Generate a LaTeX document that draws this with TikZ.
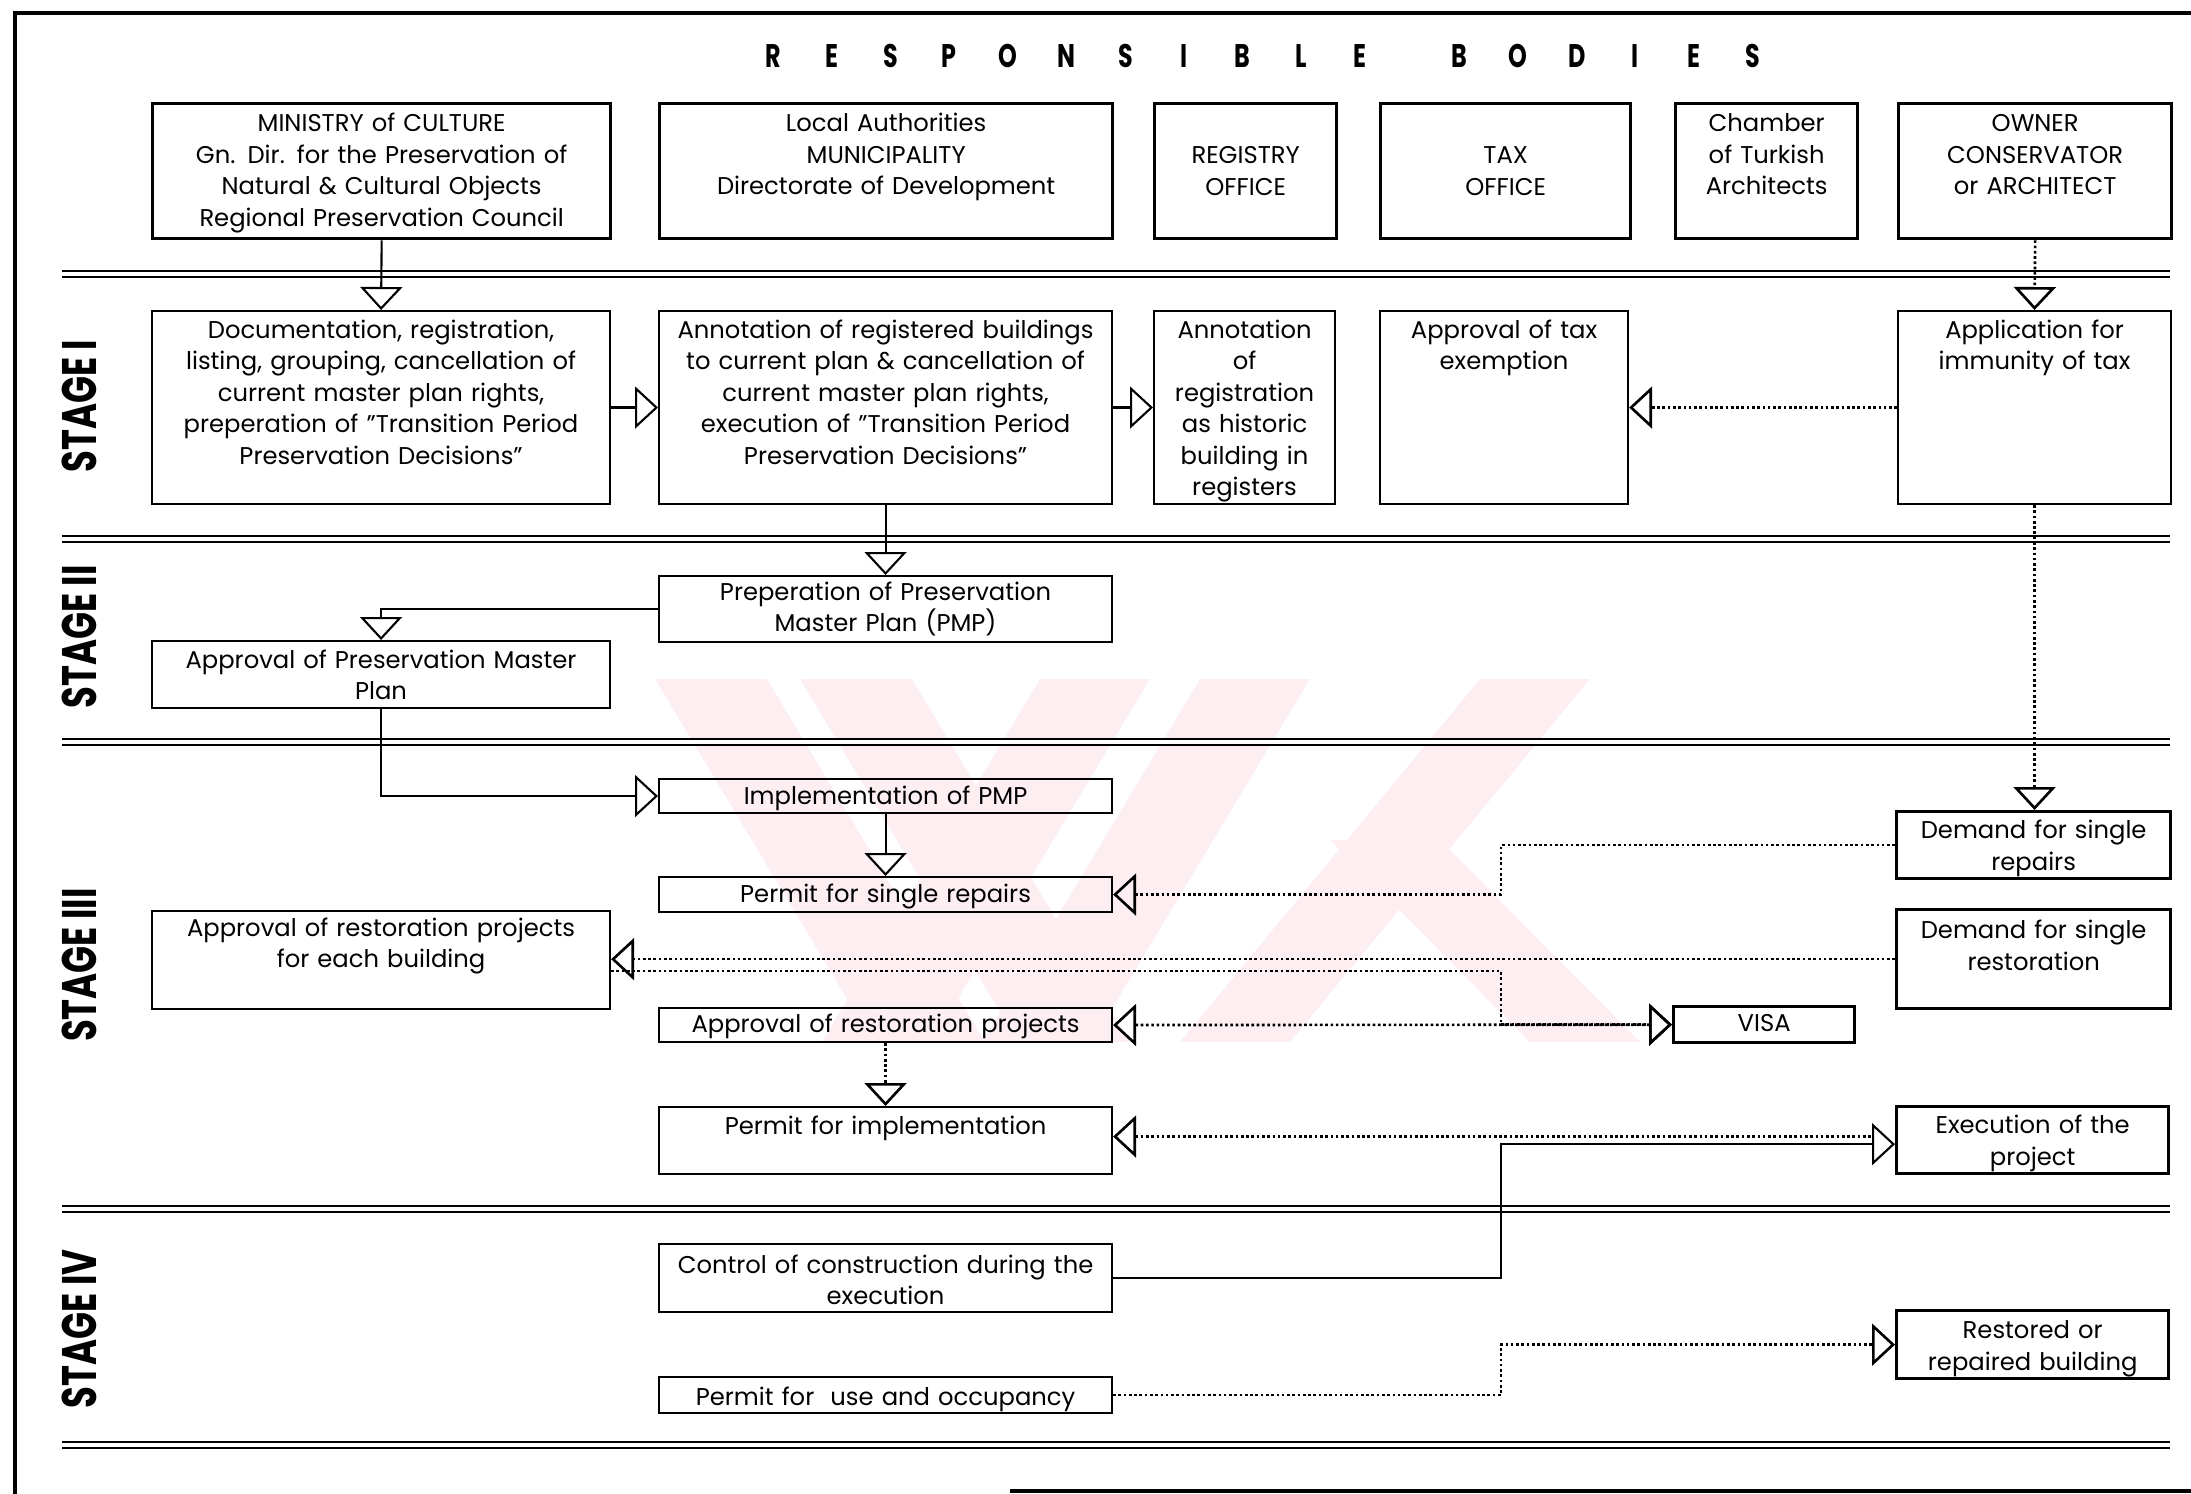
\documentclass[tikz,border=0pt]{standalone}
\usepackage{fontspec}
\setmainfont{Poppins}
\newfontfamily\stagefont[FakeStretch=0.73]{Poppins}
\usetikzlibrary{arrows.meta}

\definecolor{stamppink}{RGB}{253,238,241}

% letters of the heading, each in a box of its own
\newcommand\spread[1]{\spreadi#1\relax}
\def\spreadi#1{\ifx#1\relax\else\makebox[5.87mm]{#1}\expandafter\spreadi\fi}

\tikzset{
  txt/.style={font=\fontsize{6.9}{8.96}\selectfont},
  cell/.style={draw, line width=0.6pt, anchor=north west, inner sep=0pt, align=center, txt},
  body/.style={cell, line width=0.95pt},
  stage/.style={rotate=90, font=\stagefont\bfseries\fontsize{13.8}{14}\selectfont},
  stageline/.style={double, line width=0.8pt, double distance=0.9pt},
  flow/.style={line width=0.6pt, ->},
  dotflow/.style={line width=0.75pt, dash pattern=on 0.75pt off 0.75pt},
}

\begin{document}
\begin{tikzpicture}[x=0.1mm, y=-0.1mm, >={Triangle[open, width=4.2mm, length=2.3mm]}]
  \useasboundingbox (0,0) rectangle (2191,1494);

  %% faint stamp in the back
  \fill[stamppink] (655,679) -- (767,679) -- (985,1042) -- (873,1042) -- cycle;
  \fill[stamppink] (800,679) -- (912,679) -- (1130,1042) -- (1018,1042) -- cycle;
  \fill[stamppink] (1040,679) -- (1150,679) -- (932,1042) -- (822,1042) -- cycle;
  \fill[stamppink] (1200,679) -- (1310,679) -- (1092,1042) -- (982,1042) -- cycle;
  \fill[stamppink] (1480,679) -- (1590,679) -- (1290,1042) -- (1180,1042) -- cycle;
  \fill[stamppink] (1330,840) -- (1440,840) -- (1640,1042) -- (1530,1042) -- cycle;

  %% frame
  \draw[line width=0.9pt] (2191,13) -- (15,13) -- (15,1494);
  \draw[line width=0.9pt] (1010,1491) -- (2191,1491);

  \node (title) at (1263,56) {\stagefont\bfseries\fontsize{9.3}{10}\selectfont\spread{RESPONSIBLE}\hspace{4.05mm}\spread{BODIES}};

  %% responsible bodies
  \node[body, text width=45.8mm, text height=2.8mm, text depth=10.7mm] (ministry) at (151,102)
    {MINISTRY of CULTURE\\Gn. Dir. for the Preservation of\\Natural \& Cultural Objects\\Regional Preservation Council};
  \node[body, text width=45.3mm, text height=2.8mm, text depth=10.7mm] (local) at (658,102)
    {Local Authorities\\MUNICIPALITY\\Directorate of Development};
  \node[body, text width=18.2mm, text height=6.0mm, text depth=7.5mm] (registry) at (1153,102) {REGISTRY\\OFFICE};
  \node[body, text width=25.0mm, text height=6.0mm, text depth=7.5mm] (tax) at (1379,102) {TAX\\OFFICE};
  \node[body, text width=18.2mm, text height=2.8mm, text depth=10.7mm] (chamber) at (1674,102) {Chamber\\of Turkish\\Architects};
  \node[body, text width=27.3mm, text height=2.8mm, text depth=10.7mm] (owner) at (1897,102) {OWNER\\CONSERVATOR\\or ARCHITECT};

  %% stage separators
  \draw[stageline] (62,274) -- (2170,274);
  \draw[stageline] (62,539) -- (2170,539);
  \draw[stageline] (62,742) -- (2170,742);
  \draw[stageline] (62,1209) -- (2170,1209);
  \draw[stageline] (62,1445) -- (2170,1445);

  \node[stage] (s1) at (79,406) {STAGE I};
  \node[stage] (s2) at (79,637) {STAGE II};
  \node[stage] (s3) at (79,965) {STAGE III};
  \node[stage] (s4) at (79,1329) {STAGE IV};

  %% stage I
  \node[cell, text width=45.8mm, text height=2.7mm, text depth=16.6mm] (doc) at (151,310)
    {Documentation, registration,\\listing, grouping, cancellation of\\current master plan rights,\\preperation of "Transition Period\\Preservation Decisions"};
  \node[cell, text width=45.3mm, text height=2.7mm, text depth=16.6mm] (annot) at (658,310)
    {Annotation of registered buildings\\to current plan \& cancellation of\\current master plan rights,\\execution of "Transition Period\\Preservation Decisions"};
  \node[cell, text width=18.1mm, text height=2.7mm, text depth=16.6mm] (regist) at (1153,310)
    {Annotation\\of\\registration\\as historic\\building in\\registers};
  \node[cell, text width=24.8mm, text height=2.7mm, text depth=16.6mm] (taxex) at (1379,310) {Approval of tax\\exemption};
  \node[cell, text width=27.3mm, text height=2.7mm, text depth=16.6mm] (app) at (1897,310) {Application for\\immunity of tax};

  %% stage II
  \node[cell, text width=45.3mm, text height=2.4mm, text depth=4.2mm] (pmp) at (658,575)
    {Preperation of Preservation\\Master Plan (PMP)};
  \node[cell, text width=45.8mm, text height=2.7mm, text depth=4.0mm] (apmp) at (151,640)
    {Approval of Preservation Master\\Plan};

  %% stage III
  \node[cell, text width=45.3mm, text height=2.5mm, text depth=0.9mm] (impl) at (658,778) {Implementation of PMP};
  \node[cell, text width=45.3mm, text height=2.5mm, text depth=1.0mm] (prep) at (658,876) {Permit for single repairs};
  \node[cell, text width=45.8mm, text height=2.5mm, text depth=7.3mm] (apeach) at (151,910)
    {Approval of restoration projects\\for each building};
  \node[cell, text width=45.3mm, text height=2.4mm, text depth=1.0mm] (aprest) at (658,1007) {Approval of restoration projects};
  \node[cell, text width=45.3mm, text height=2.7mm, text depth=4.0mm] (pimpl) at (658,1106) {Permit for implementation};
  \node[body, text width=18.1mm, text height=2.5mm, text depth=1.1mm] (visa) at (1672,1005) {VISA};
  \node[body, text width=27.4mm, text height=2.7mm, text depth=4.0mm] (drep) at (1895,810) {Demand for single\\repairs};
  \node[body, text width=27.4mm, text height=2.9mm, text depth=7.0mm] (drest) at (1895,908) {Demand for single\\restoration};
  \node[body, text width=27.2mm, text height=2.7mm, text depth=4.0mm] (exec) at (1895,1105) {Execution of the\\project};

  %% stage IV
  \node[cell, text width=45.3mm, text height=2.9mm, text depth=3.9mm] (ctrl) at (658,1243)
    {Control of construction during the\\execution};
  \node[cell, text width=45.3mm, text height=2.8mm, text depth=0.8mm] (puse) at (658,1376) {Permit for \ use and occupancy};
  \node[body, text width=27.2mm, text height=2.8mm, text depth=4.0mm] (restored) at (1895,1309) {Restored or\\repaired building};

  %% bends
  \coordinate (bus) at (1501,0);
  \coordinate (apeachlow) at ([yshift=-1.1mm]apeach.east);
  \coordinate (pimplup) at ([yshift=0.4mm]pimpl.east);
  \coordinate (execlow) at ([yshift=-0.4mm]exec.west);

  %% solid flow
  \draw[flow] (ministry.south) -- (doc.north);
  \draw[flow] (doc.east) -- (annot.west);
  \draw[flow] (annot.east) -- (regist.west);
  \draw[flow] (annot.south) -- (pmp.north);
  \draw[flow] (pmp.west) -| (apmp.north);
  \draw[flow] (apmp.south) |- (impl.west);
  \draw[flow] (impl.south) -- (prep.north);
  \draw[flow] (ctrl.east) -- (ctrl.east -| bus) |- (execlow);

  %% dotted flow
  \draw[dotflow, ->] (owner.south) -- (app.north);
  \draw[dotflow, ->] (app.west) -- (taxex.east);
  \draw[dotflow, ->] (app.south) -- (app.south |- drep.north);
  \draw[dotflow, ->] (drep.west) -- (drep.west -| bus) |- (prep.east);
  \draw[dotflow, ->] (drest.west) -- (drest.west -| apeach.east);
  \draw[dotflow, ->] (apeachlow) -- (apeachlow -| bus) |- (visa.west);
  \draw[dotflow, <->] (aprest.east) -- (visa.west);
  \draw[dotflow, ->] (aprest.south) -- (pimpl.north);
  \draw[dotflow, <-, shorten >=2.3mm] (pimplup) -- (pimplup -| exec.west);
  \draw[dotflow, ->] (puse.east) -- (puse.east -| bus) |- (restored.west);
\end{tikzpicture}
\end{document}
